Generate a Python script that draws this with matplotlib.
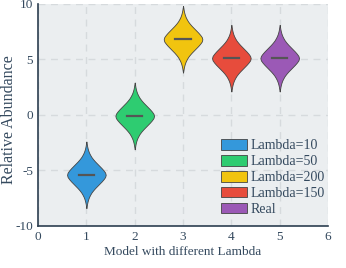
import numpy as np
import matplotlib.pyplot as plt

# Data
labels = ["Lambda=10", "Lambda=50", "Lambda=200", "Lambda=150", "Real"]
positions = [1, 2, 3, 4, 5]
medians = [-5.4, -0.1, 6.8, 5.1, 5.1]
colors = ["#3498DB", "#2ECC71", "#F1C40F", "#E74C3C", "#9B59B6"]

# violin outline (offset from median, half width)
prof_off = [-3.0, -2.8, -2.6, -2.4, -2.2, -2.0, -1.8, -1.6, -1.4, -1.2, -1.0, -0.8,
            -0.6, -0.4, -0.2, 0.0, 0.2, 0.4, 0.6, 0.8, 1.0, 1.2, 1.4, 1.6, 1.8,
            2.0, 2.2, 2.4, 2.6, 2.8, 3.0]
prof_w = [0.0, 0.008, 0.015, 0.025, 0.038, 0.055, 0.078, 0.105, 0.14, 0.18, 0.225, 0.27,
          0.315, 0.355, 0.388, 0.40, 0.388, 0.355, 0.315, 0.27, 0.225, 0.18, 0.14, 0.105, 0.078,
          0.055, 0.038, 0.025, 0.015, 0.008, 0.0]

plt.rcParams['font.family'] = ['Liberation Serif', 'DejaVu Serif']
plt.rcParams['axes.unicode_minus'] = False
txt = '#34495E'

fig = plt.figure(figsize=(3.46, 2.68), dpi=100)
ax = fig.add_axes([0.11, 0.157, 0.838, 0.829])
ax.set_facecolor('#EBEEF0')

off = np.array(prof_off)
w = np.array(prof_w)
handles = []
for p, m, c, lab in zip(positions, medians, colors, labels):
    h = ax.fill_betweenx(m + off, p - w, p + w, facecolor=c, edgecolor='#444444',
                         linewidth=0.6, zorder=3, label=lab)
    ax.plot([p - 0.16, p + 0.16], [m, m], color='#555555', linewidth=1.6, zorder=4)
    handles.append(h)

ax.set_xlim(0, 6)
ax.set_ylim(-10, 10)
ax.set_xticks(range(0, 7))
ax.set_yticks([-10, -5, 0, 5, 10])
ax.grid(True, color='#D6DADD', linestyle=(0, (5, 4)), linewidth=1.0, zorder=0)
ax.set_axisbelow(True)
for s in ['top', 'right']:
    ax.spines[s].set_visible(False)
for s in ['left', 'bottom']:
    ax.spines[s].set_color('#2C3E50')
    ax.spines[s].set_linewidth(1.2)
ax.tick_params(length=0, labelsize=9.5, colors=txt, pad=3.5)
ax.set_xlabel('Model with different Lambda', fontsize=9.5, color=txt, labelpad=2)
ax.set_ylabel('Relative Abundance', fontsize=11.5, color=txt)
ax.yaxis.set_label_coords(-0.074, 0.48)

leg = ax.legend(handles=handles, loc='lower left', bbox_to_anchor=(0.632, 0.045),
                frameon=False, fontsize=10, handlelength=1.87, handleheight=0.8,
                handletextpad=0.2, labelspacing=0.2, borderaxespad=0, borderpad=0)
for t in leg.get_texts():
    t.set_color(txt)

plt.savefig('out.png', dpi=100)
